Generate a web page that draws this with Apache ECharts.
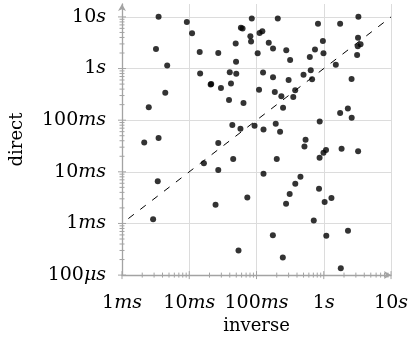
<!DOCTYPE html>
<html>
<head>
<meta charset="utf-8">
<script src="https://cdn.jsdelivr.net/npm/echarts@6/dist/echarts.min.js"></script>
<style>
  html, body { margin: 0; padding: 0; background: #fff; }
  #chart { width: 411px; height: 340px; }
</style>
</head>
<body>
<div id="chart"></div>
<script>
// inverse (x) and direct (y) timings, seconds
const inverse = [
  0.0035, 0.0092, 0.011, 0.0032, 0.0143, 0.0047, 0.0145, 0.0208, 0.0044, 0.0025,
  0.00214, 0.0035, 0.0165, 0.0034, 0.0029, 0.085, 0.207, 0.82, 1.75, 3.27,
  0.0586, 0.062, 0.081, 0.083, 0.111, 0.122, 0.049, 0.152, 0.176, 0.277,
  0.316, 0.104, 0.027, 0.0496, 0.97, 0.74, 0.99, 0.62, 3.23, 3.52,
  3.2, 3.13, 1.51, 0.040, 0.050, 0.125, 0.176, 0.30, 0.50, 0.64,
  0.67, 2.59, 0.0212, 0.0296, 0.0417, 0.109, 0.187, 0.376, 0.234, 0.352,
  0.039, 0.064, 0.248, 1.75, 2.28, 2.6, 0.0437, 0.0577, 0.0935, 0.127,
  0.193, 0.224, 0.87, 0.027, 0.536, 0.516, 1.08, 0.99, 0.866, 1.84,
  3.24, 0.045, 0.20, 0.027, 0.127, 0.45, 0.377, 0.311, 0.275, 0.85,
  1.03, 1.30, 0.71, 2.29, 1.09, 0.175, 0.0246, 0.073, 0.054, 0.246,
  1.79
]
const direct = [
  10.1, 8.0, 4.8, 2.4, 2.1, 1.14, 0.80, 0.49, 0.34, 0.178,
  0.037, 0.045, 0.0146, 0.0066, 0.0012, 9.3, 9.3, 7.4, 7.4, 10.1,
  6.2, 5.96, 4.2, 3.35, 4.86, 5.3, 3.07, 3.16, 2.45, 2.25,
  1.47, 1.97, 2.0, 1.36, 3.41, 2.34, 1.97, 1.68, 3.95, 2.96,
  2.71, 1.83, 1.18, 0.85, 0.79, 0.84, 0.68, 0.60, 0.76, 0.93,
  0.62, 0.63, 0.50, 0.42, 0.515, 0.39, 0.353, 0.38, 0.29, 0.28,
  0.245, 0.214, 0.174, 0.138, 0.168, 0.112, 0.081, 0.068, 0.078, 0.066,
  0.085, 0.060, 0.094, 0.036, 0.042, 0.031, 0.0265, 0.0234, 0.0188, 0.028,
  0.025, 0.0178, 0.0178, 0.0109, 0.0092, 0.0080, 0.0059, 0.0037, 0.0024, 0.0047,
  0.0026, 0.0031, 0.00114, 0.00072, 0.00058, 0.00059, 0.0023, 0.0032, 0.0003, 0.00022,
  0.000135
]

const xDecades = [0.001, 0.01, 0.1, 1, 10]
const xLabels  = ['1ms', '10ms', '100ms', '1s', '10s']
const yDecades = [0.0001, 0.001, 0.01, 0.1, 1, 10]
const yLabels  = ['100μs', '1ms', '10ms', '100ms', '1s', '10s']
const minorSteps = [2, 3, 4, 5, 6, 7, 8, 9]

const X_MIN = 0.001, X_MAX = 10
const Y_MIN = 0.0001, Y_MAX = Math.pow(10, 1.25)

const FONT = 'DejaVu Serif'
const AXIS_COLOR = '#a3a3a3'

function labelFor(decades, labels) {
  return v => {
    const i = decades.findIndex(d => Math.abs(Math.log10(v) - Math.log10(d)) < 1e-6)
    if (i < 0) return ''
    const m = labels[i].match(/^(\d+)(.*)$/)
    return `{n|${m[1]}}{u|${m[2]}}`
  }
}
const rich = {
  n: { fontFamily: FONT, fontSize: 19, color: '#000' },
  u: { fontFamily: FONT, fontSize: 19, fontStyle: 'italic', color: '#000' },
}

function minorOf(decades, maxV) {
  const out = []
  for (const d of decades) for (const s of minorSteps) if (d * s < maxV) out.push(d * s)
  return out
}

const chart = echarts.init(document.getElementById('chart'), null, { renderer: 'canvas' })

chart.setOption({
  backgroundColor: '#fff',
  animation: false,
  grid: { left: 117, right: 18, top: 4, bottom: 63, containLabel: false },
  xAxis: {
    type: 'log', logBase: 10, min: X_MIN, max: X_MAX,
    name: 'inverse', nameLocation: 'middle', nameGap: 40,
    nameTextStyle: { fontFamily: FONT, fontSize: 18, color: '#000' },
    axisLine: { lineStyle: { color: AXIS_COLOR, width: 1.3 }, symbol: ['none', 'arrow'], symbolSize: [6, 7] },
    axisTick: { show: false },
    axisLabel: { interval: 0, margin: 18, formatter: labelFor(xDecades, xLabels), rich },
    splitLine: { show: true, showMinLine: false, lineStyle: { color: '#dcdcdc', width: 1 } },
  },
  yAxis: {
    type: 'log', logBase: 10, min: Y_MIN, max: Y_MAX, splitNumber: 5,
    name: 'direct', nameLocation: 'middle', nameGap: 96,
    nameTextStyle: { fontFamily: FONT, fontSize: 18, color: '#000' },
    axisLine: { lineStyle: { color: AXIS_COLOR, width: 1.3 }, symbol: ['none', 'arrow'], symbolSize: [6, 7] },
    axisTick: { show: false },
    axisLabel: { interval: 0, margin: 16, showMaxLabel: false, formatter: labelFor(yDecades, yLabels), rich },
    splitLine: { show: true, showMinLine: false, showMaxLine: false, lineStyle: { color: '#dcdcdc', width: 1 } },
  },
  series: [
    {
      type: 'line', silent: true, symbol: 'none', z: 3,
      data: [[X_MIN, X_MIN], [X_MAX, X_MAX]],
      lineStyle: { color: '#000', width: 1, type: [7, 8], dashOffset: 7 },
    },
    {
      type: 'scatter', z: 4,
      data: inverse.map((x, i) => [x, direct[i]]),
      symbol: 'circle', symbolSize: 6,
      itemStyle: { color: '#000' },
    },
  ],
})

// tick marks that cross the axis lines (major + log minor), placed with the chart's own scales
const ticks = []
function addTick(axis, v, half) {
  const p = axis === 'x'
    ? chart.convertToPixel({ gridIndex: 0 }, [v, Y_MIN])
    : chart.convertToPixel({ gridIndex: 0 }, [X_MIN, v])
  const shape = axis === 'x'
    ? { x1: p[0], y1: p[1] - half, x2: p[0], y2: p[1] + half }
    : { x1: p[0] - half, y1: p[1], x2: p[0] + half, y2: p[1] }
  ticks.push({ type: 'line', silent: true, z: 10, shape, style: { stroke: AXIS_COLOR, lineWidth: 1 } })
}
xDecades.forEach(v => addTick('x', v, 4))
minorOf(xDecades, X_MAX).forEach(v => addTick('x', v, 2.5))
yDecades.forEach(v => addTick('y', v, 4))
minorOf(yDecades, 10).forEach(v => addTick('y', v, 2.5))
chart.setOption({ graphic: ticks })
</script>
</body>
</html>
